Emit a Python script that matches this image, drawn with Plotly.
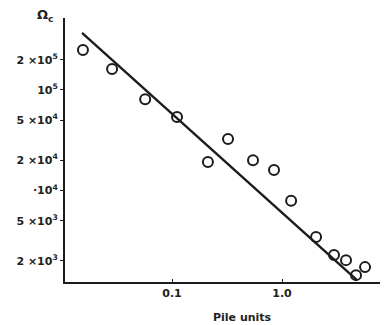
import plotly.graph_objects as go

# Data
pile_units = [0.0155, 0.0285, 0.057, 0.111, 0.212, 0.323, 0.545, 0.846, 1.21, 2.04, 2.97, 3.82, 4.71, 5.69]
omega_c = [2.5e5, 1.62e5, 8.1e4, 5.4e4, 1.92e4, 3.25e4, 2.0e4, 1.6e4, 7.9e3, 3.45e3, 2.28e3, 2.03e3, 1.44e3, 1.73e3]

fit_x = [0.0152, 4.81]
fit_y = [3.69e5, 1.285e3]

y_tickvals = [2e5, 1e5, 5e4, 2e4, 1e4, 5e3, 2e3]
y_ticktext = ["<b>2 ×10<sup>5</sup></b>", "<b>10<sup>5</sup></b>", "<b>5 ×10<sup>4</sup></b>",
              "<b>2 ×10<sup>4</sup></b>", "<b>·10<sup>4</sup></b>", "<b>5 ×10<sup>3</sup></b>",
              "<b>2 ×10<sup>3</sup></b>"]
x_tickvals = [0.1, 1.0, 10]
x_ticktext = ["<b>0.1</b>", "<b>1.0</b>", "<b>10</b>"]

ink = "#1c1c1c"

fig = go.Figure()
fig.add_trace(go.Scatter(x=fit_x, y=fit_y, mode="lines",
                         line=dict(color=ink, width=2.4), showlegend=False))
fig.add_trace(go.Scatter(x=pile_units, y=omega_c, mode="markers",
                         marker=dict(symbol="circle-open", size=10, color=ink,
                                     line=dict(width=2, color=ink)),
                         showlegend=False, cliponaxis=False))

fig.update_layout(
    width=372, height=317,
    margin=dict(l=57, r=0, t=10, b=43),
    paper_bgcolor="white", plot_bgcolor="white",
    font=dict(family="DejaVu Sans, Liberation Sans, sans-serif", size=11, color="#222"),
    xaxis=dict(type="log", range=[-1.973, 0.891], showgrid=False, zeroline=False,
               showline=True, linecolor=ink, linewidth=2,
               ticks="inside", ticklen=3, tickcolor=ink,
               tickvals=x_tickvals, ticktext=x_ticktext, ticklabeloverflow="allow",
               tickfont=dict(size=11)),
    yaxis=dict(type="log", range=[3.090, 5.716], showgrid=False, zeroline=False,
               showline=True, linecolor=ink, linewidth=2,
               ticks="outside", ticklen=3, tickcolor=ink,
               tickvals=y_tickvals, ticktext=y_ticktext, ticklabelstandoff=0,
               tickfont=dict(size=11)),
    annotations=[
        dict(text="<b>Pile units</b>", xref="paper", yref="paper", x=0.565, y=-0.1326,
             showarrow=False, xanchor="center", yanchor="middle", font=dict(size=11)),
        dict(text="<b>Ω<sub>c</sub></b>", xref="paper", yref="paper", x=-0.0635, y=1.01,
             showarrow=False, xanchor="center", yanchor="middle", font=dict(size=13)),
    ],
)

fig.write_html("out.html")
